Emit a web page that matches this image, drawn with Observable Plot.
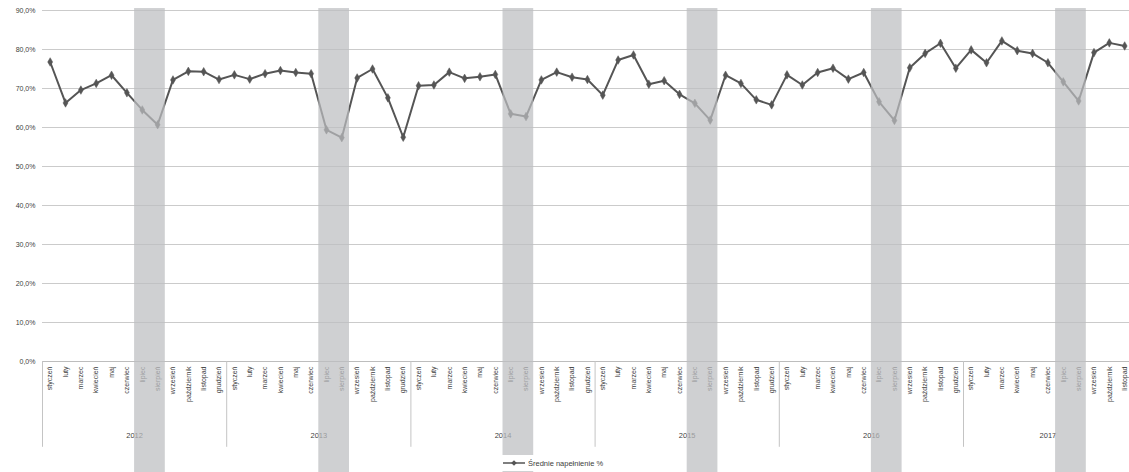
<!DOCTYPE html>
<html lang="pl">
<head>
<meta charset="utf-8">
<script src="https://cdn.jsdelivr.net/npm/d3@7"></script>
<script src="https://cdn.jsdelivr.net/npm/@observablehq/plot@0.6"></script>
<style>
  body { margin: 0; background: #fff; }
  #chart { position: relative; width: 1129px; height: 472px; font-family: "Liberation Sans", Arial, sans-serif; }
  #legend {
    position: absolute; left: 502px; top: 455px; width: 110px; height: 16px;
    background: #fff; display: flex; align-items: center; gap: 2px;
    font-size: 7.5px; color: #404040;
  }
</style>
</head>
<body>
<div id="chart"></div>
<script>
// Month names (category labels, inner level)
const months = ["styczeń", "luty", "marzec", "kwiecień", "maj", "czerwiec",
  "lipiec", "sierpień", "wrzesień", "październik", "listopad", "grudzień"];

// Years (outer category level)
const years = [2012, 2013, 2014, 2015, 2016, 2017];

// Average fill rate (%) per month, one array per year
const v2012 = [76.8, 66.3, 69.6, 71.3, 73.4, 68.9, 64.5, 60.7, 72.2, 74.4, 74.3, 72.3];
const v2013 = [73.5, 72.4, 73.8, 74.6, 74.1, 73.8, 59.4, 57.4, 72.7, 75.0, 67.6, 57.5];
const v2014 = [70.7, 70.9, 74.2, 72.6, 73.0, 73.6, 63.5, 62.8, 72.2, 74.2, 72.9, 72.3];
const v2015 = [68.3, 77.3, 78.6, 71.1, 72.0, 68.5, 66.2, 61.9, 73.4, 71.3, 67.1, 65.8];
const v2016 = [73.5, 70.9, 74.1, 75.2, 72.4, 74.1, 66.6, 61.8, 75.3, 79.0, 81.6, 75.2];
const v2017 = [79.9, 76.6, 82.2, 79.7, 79.0, 76.6, 71.7, 66.8, 79.2, 81.7, 80.9];

const yTicks = [0, 0.1, 0.2, 0.3, 0.4, 0.5, 0.6, 0.7, 0.8, 0.9];
const seriesName = "Średnie napełnienie %";

// Flatten into one row per month with a running index
const perYear = [v2012, v2013, v2014, v2015, v2016, v2017];
const rows = [];
perYear.forEach((vals, yi) => {
  vals.forEach((v, m) => {
    rows.push({ i: rows.length, year: years[yi], month: months[m], value: v / 100 });
  });
});

// Year groups: start index and month count
const groups = [];
{
  let start = 0;
  perYear.forEach((vals, yi) => {
    groups.push({ year: years[yi], start, count: vals.length });
    start += vals.length;
  });
}
const nMonths = rows.length;
const separators = groups.map(g => g.start).concat([nMonths]);

const fmtPct = d => (d * 100).toFixed(1).replace(".", ",") + "%";
const ink = "#555555";

const chart = Plot.plot({
  width: 1129,
  height: 472,
  marginLeft: 42,
  marginRight: 0,
  marginTop: 10,
  marginBottom: 111,
  style: { fontFamily: "Liberation Sans, Arial, sans-serif", background: "#fff" },
  x: { type: "linear", domain: [0, nMonths], range: [42, 42 + nMonths * 15.35], axis: null },
  y: { domain: [0, 0.9], axis: null },
  marks: [
    Plot.gridY(yTicks, { stroke: "#cbcbcb", strokeOpacity: 1, strokeWidth: 1.2 }),
    Plot.axisY(yTicks, {
      tickSize: 0, tickPadding: 7, tickFormat: fmtPct,
      fontSize: 7, fill: "#404040", label: null
    }),
    Plot.ruleY([0], { stroke: "#bdbdbd", strokeWidth: 1.2 }),
    // year separators in the category axis
    Plot.ruleX(separators, { x: d => d, y1: 0, y2: -0.22, stroke: "#c4c4c4", strokeWidth: 1 }),
    // month labels (rotated)
    Plot.text(rows, {
      x: d => d.i + 0.5, y: 0, text: "month", rotate: -90,
      textAnchor: "end", lineAnchor: "middle", dy: 5,
      fontSize: 7, fill: "#404040"
    }),
    // year labels
    Plot.text(groups, {
      x: d => d.start + d.count / 2, y: -0.19, text: d => String(d.year),
      fontSize: 7.5, fill: "#404040"
    }),
    // series
    Plot.line(rows, { x: d => d.i + 0.5, y: "value", stroke: ink, strokeWidth: 2 }),
    Plot.dot(rows, { x: d => d.i + 0.5, y: "value", symbol: "diamond", r: 2.6, fill: ink, stroke: ink, strokeWidth: 0.5 }),
    // summer months (July–August) shaded over the chart
    Plot.rect(groups, {
      x1: d => d.start + 6, x2: d => d.start + 8, y1: 0.905, y2: -0.3,
      fill: "rgb(189,190,192)", fillOpacity: 0.72
    })
  ]
});

const host = document.getElementById("chart");
host.appendChild(chart);

// Legend under the axis
const legend = document.createElement("div");
legend.id = "legend";
legend.innerHTML =
  `<svg width="24" height="8" viewBox="0 0 24 8"><line x1="1" y1="4" x2="23" y2="4" stroke="${ink}" stroke-width="1.5"/>` +
  `<path d="M12 1.2 L14.8 4 L12 6.8 L9.2 4 Z" fill="${ink}"/></svg><span></span>`;
legend.querySelector("span").textContent = seriesName;
host.appendChild(legend);
</script>
</body>
</html>
